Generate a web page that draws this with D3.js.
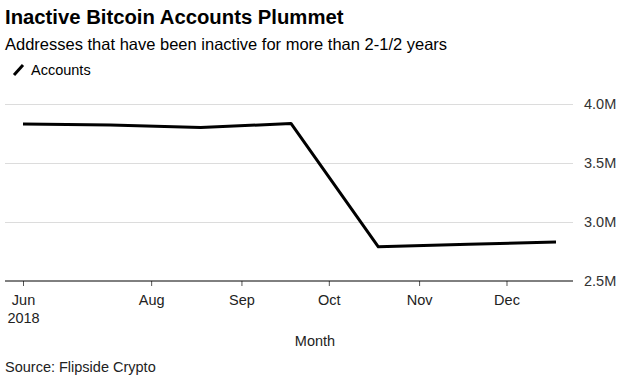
<!DOCTYPE html>
<html>
<head>
<meta charset="utf-8">
<script src="https://cdn.jsdelivr.net/npm/d3@7"></script>
<style>
  html, body { margin: 0; padding: 0; background: #fff; }
  svg { display: block; font-family: "Liberation Sans", Arial, Helvetica, sans-serif; }
</style>
</head>
<body>
<svg id="chart" width="629" height="390"></svg>
<script>
// ---- data ----
const dates = ["2018-06-18", "2018-07-18", "2018-08-18", "2018-09-18", "2018-10-18", "2018-11-18", "2018-12-18"];
const accounts = [3830000, 3822000, 3800000, 3835000, 2790000, 2812000, 2830000];
const xTickDates = ["2018-06-18", "2018-08-01", "2018-09-01", "2018-10-01", "2018-11-01", "2018-12-01"];
const xTickLabels = ["Jun", "Aug", "Sep", "Oct", "Nov", "Dec"];
const yTicks = [2500000, 3000000, 3500000, 4000000];
const yTickLabels = ["2.5M", "3.0M", "3.5M", "4.0M"];
const seriesName = "Accounts";
const titleText = "Inactive Bitcoin Accounts Plummet";
const subtitleText = "Addresses that have been inactive for more than 2-1/2 years";
const xAxisTitle = "Month";
const sourceText = "Source: Flipside Crypto";

// ---- layout ----
const W = 629, H = 390;
const plot = { left: 5, right: 573, top: 104, bottom: 281 };
const parse = d3.timeParse("%Y-%m-%d");
const data = dates.map((d, i) => ({ date: parse(d), value: accounts[i] }));

const svg = d3.select("#chart");

const x = d3.scaleTime()
  .domain([parse(dates[0]), parse(dates[dates.length - 1])])
  .range([23, 556]);
const y = d3.scaleLinear()
  .domain([2500000, 4000000])
  .range([plot.bottom, plot.top]);

// title / subtitle
svg.append("text").attr("x", 5).attr("y", 24)
  .attr("font-size", 20.3).attr("font-weight", "bold").attr("fill", "#000")
  .text(titleText);
svg.append("text").attr("x", 5).attr("y", 50)
  .attr("font-size", 16.5).attr("fill", "#000")
  .text(subtitleText);

// legend
const lg = svg.append("g");
lg.append("line").attr("x1", 14).attr("y1", 75).attr("x2", 23).attr("y2", 65)
  .attr("stroke", "#000").attr("stroke-width", 3);
lg.append("text").attr("x", 31).attr("y", 75)
  .attr("font-size", 14.5).attr("fill", "#000").text(seriesName);

// gridlines
svg.append("g").selectAll("line")
  .data(yTicks.filter(v => v !== 2500000))
  .join("line")
  .attr("x1", plot.left).attr("x2", plot.right)
  .attr("y1", d => Math.round(y(d)) + 0.5).attr("y2", d => Math.round(y(d)) + 0.5)
  .attr("stroke", "#dcdcdc").attr("stroke-width", 1);

// y axis (right side labels)
const yAxis = d3.axisRight(y)
  .tickValues(yTicks)
  .tickFormat((d, i) => yTickLabels[i])
  .tickSize(0).tickPadding(0);
const yg = svg.append("g").attr("transform", `translate(584,0)`).call(yAxis);
yg.select(".domain").remove();
yg.selectAll("text").attr("font-size", 14.5).attr("fill", "#333")
  .attr("font-family", "Liberation Sans, Arial, sans-serif");

// x axis
const xAxis = d3.axisBottom(x)
  .tickValues(xTickDates.map(parse))
  .tickFormat((d, i) => xTickLabels[i])
  .tickSize(5).tickSizeOuter(0).tickPadding(9);
const xg = svg.append("g").attr("transform", `translate(0,${plot.bottom})`).call(xAxis);
xg.select(".domain").remove();
xg.append("line").attr("x1", plot.left).attr("x2", plot.right)
  .attr("y1", 0).attr("y2", 0).attr("stroke", "#000").attr("stroke-width", 1);
xg.selectAll(".tick line").attr("stroke", "#555");
xg.selectAll(".tick text").attr("font-size", 14.5).attr("fill", "#222")
  .attr("font-family", "Liberation Sans, Arial, sans-serif");
xg.selectAll(".tick").filter((d, i) => i === 0).select("text")
  .append("tspan").attr("x", 0).attr("dy", "1.2em").text("2018");

// axis title
svg.append("text").attr("x", 315).attr("y", 346).attr("text-anchor", "middle")
  .attr("font-size", 14.5).attr("fill", "#222").text(xAxisTitle);

// line
const line = d3.line().x(d => x(d.date)).y(d => y(d.value));
svg.append("path").datum(data)
  .attr("d", line)
  .attr("fill", "none").attr("stroke", "#000").attr("stroke-width", 3)
  .attr("stroke-linejoin", "round");

// source
svg.append("text").attr("x", 5).attr("y", 372)
  .attr("font-size", 14.5).attr("fill", "#222").text(sourceText);
</script>
</body>
</html>
